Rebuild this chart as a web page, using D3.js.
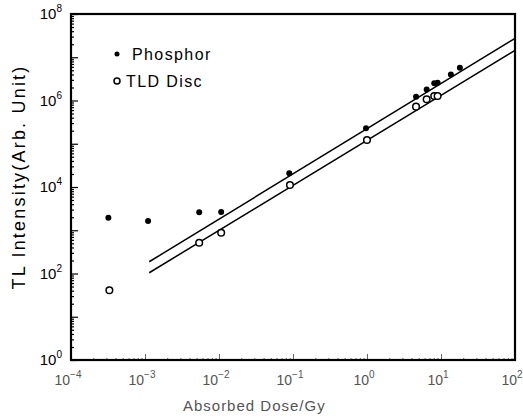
<!DOCTYPE html>
<html><head><meta charset="utf-8">
<script src="https://cdn.jsdelivr.net/npm/d3@7/dist/d3.min.js"></script>
<style>
body{margin:0;background:#fff;}
text{font-family:"Liberation Sans",Arial,sans-serif;}
.frame{fill:none;stroke:#000;}
</style></head><body>
<svg id="chart" width="523" height="418"></svg>
<script>
// values
var phosDose=[3.2e-4,1.1e-3,5.4e-3,1.07e-2,0.089,0.97,4.6,6.4,8.1,9.0,13.6,18];
var phosTL=[1950,1630,2600,2630,2.07e4,2.27e5,1.22e6,1.8e6,2.5e6,2.57e6,4.0e6,5.7e6];
var tldDose=[3.3e-4,5.4e-3,1.07e-2,0.091,1.0,4.6,6.4,8.1,9.0];
var tldTL=[41,515,877,1.11e4,1.22e5,7.2e5,1.07e6,1.27e6,1.27e6];
var fitDose=[1.14e-3,100];
var phosFit=[187,2.74e7];
var tldFit=[104,1.45e7];
var xTickExp=[-4,-3,-2,-1,0,1,2];
var yTickExp=[0,2,4,6,8];
var legendNames=['Phosphor','TLD  Disc'];

var margin={top:14,right:8,bottom:58,left:71},
    width=523-margin.left-margin.right,
    height=418-margin.top-margin.bottom;
var svg=d3.select('#chart').append('g')
    .attr('transform','translate('+margin.left+','+margin.top+')');
var x=d3.scaleLog().domain([1e-4,1e2]).range([0,width]);
var y=d3.scaleLog().domain([1,1e8]).range([height,0]);

// minor + major tick values
function logTicks(lo,hi){
  var out=[];
  for(var e=lo;e<hi;e++) for(var k=1;k<10;k++) out.push(k*Math.pow(10,e));
  out.push(Math.pow(10,hi)); return out;}
var yAll=logTicks(0,8), xAll=logTicks(-4,2);

svg.append('g').call(d3.axisLeft(y).tickValues(yAll).tickFormat('')
    .tickSize(-3).tickSizeOuter(0))
  .call(function(g){g.select('.domain').remove();
    g.selectAll('line').attr('stroke-width',1.2)
     .attr('x2',function(d){return Math.abs(Math.log10(d)%1)<1e-9?7:3;});});
svg.append('g').attr('transform','translate(0,'+height+')')
  .call(d3.axisBottom(x).tickValues(xAll).tickFormat('')
    .tickSize(-2).tickSizeOuter(0))
  .call(function(g){g.select('.domain').remove();
    g.selectAll('line').attr('stroke','#666')
     .attr('y2',function(d){return Math.abs(Math.log10(d)%1)<1e-9?-6:-2;});});

svg.append('rect').attr('class','frame').attr('width',width).attr('height',height)
   .attr('stroke-width',2.2);

// tick labels
var yl=svg.append('g').selectAll('text').data(yTickExp).enter().append('text')
   .attr('x',-9).attr('y',function(d){return y(Math.pow(10,d))+5;})
   .attr('text-anchor','end').style('font-size','15px').attr('fill','#000');
yl.append('tspan').text('10');
yl.append('tspan').attr('dy',-7).style('font-size','10px').text(function(d){return d;});

var xl=svg.append('g').selectAll('text').data(xTickExp).enter().append('text')
   .attr('x',function(d){return x(Math.pow(10,d))-3;}).attr('y',height+25)
   .attr('text-anchor','middle').style('font-size','14px').attr('fill','#555');
xl.append('tspan').text('10');
xl.append('tspan').attr('dy',-7).style('font-size','10px').text(function(d){return d<0?'\u2212'+(-d):d;});

// axis titles
svg.append('text').attr('x',x(0.03)).attr('y',height+51).attr('text-anchor','middle')
   .style('font-size','15px').style('letter-spacing','1px').attr('fill','#555')
   .text('Absorbed Dose/Gy');
svg.append('text').attr('transform','translate('+(-46)+','+(height/2-10)+') rotate(-90)')
   .attr('text-anchor','middle').style('font-size','18px').style('letter-spacing','2.2px')
   .attr('fill','#000').text('TL Intensity(Arb.  Unit)');

// fit lines
var line=d3.line().x(function(d){return x(d[0]);}).y(function(d){return y(d[1]);});
[phosFit,tldFit].forEach(function(f){
  svg.append('path').datum(d3.zip(fitDose,f)).attr('d',line)
     .attr('fill','none').attr('stroke','#000').attr('stroke-width',1.5);});

// points
svg.append('g').selectAll('circle').data(d3.zip(phosDose,phosTL)).enter().append('circle')
   .attr('cx',function(d){return x(d[0]);}).attr('cy',function(d){return y(d[1]);})
   .attr('r',3).attr('fill','#000');
svg.append('g').selectAll('circle').data(d3.zip(tldDose,tldTL)).enter().append('circle')
   .attr('cx',function(d){return x(d[0]);}).attr('cy',function(d){return y(d[1]);})
   .attr('r',3.3).attr('fill','#fff').attr('stroke','#000').attr('stroke-width',1.5);

// legend
var lg=svg.append('g').attr('transform','translate(46,40)');
lg.append('circle').attr('cx',0).attr('cy',0).attr('r',2.5).attr('fill','#000');
lg.append('circle').attr('cx',0).attr('cy',27).attr('r',3).attr('fill','none')
  .attr('stroke','#000').attr('stroke-width',1.5);
lg.selectAll('text').data(legendNames).enter().append('text')
  .attr('x',function(d,i){return i?9:15;}).attr('y',function(d,i){return 6+i*27;})
  .style('font-size','16px').style('letter-spacing','1.4px').text(function(d){return d;});
</script>
</body></html>
